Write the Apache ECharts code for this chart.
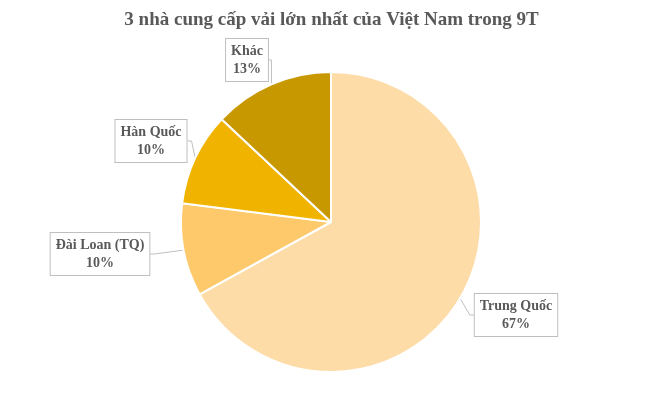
<!DOCTYPE html>
<html><head><meta charset="utf-8">
<script src="https://cdn.jsdelivr.net/npm/echarts@6/dist/echarts.min.js"></script>
<style>html,body{margin:0;padding:0;background:#fff}#c{width:663px;height:406px}</style>
</head><body><div id="c"></div>
<script>
var names = ['Trung Quốc', 'Đài Loan (TQ)', 'Hàn Quốc', 'Khác'];
var values = [67, 10, 10, 13];
var colors = ['#FDDCA8', '#FDC96B', '#F0B400', '#C89800'];
var labelPos = [[516, 315], [100, 254], [151, 141], [247, 60]];

var chart = echarts.init(document.getElementById('c'));
chart.setOption({
    title: {
        text: '3 nhà cung cấp vải lớn nhất của Việt Nam trong 9T',
        left: 'center', top: 6,
        textStyle: { fontFamily: 'Liberation Serif', fontSize: 19, fontWeight: 'bold', color: '#595959' }
    },
    series: [{
        type: 'pie',
        center: [331, 222],
        radius: 150,
        startAngle: 90,
        clockwise: true,
        animation: false,
        data: names.map(function (n, i) {
            return { name: n, value: values[i], itemStyle: { color: colors[i] } };
        }),
        itemStyle: { borderColor: '#fff', borderWidth: 2 },
        label: {
            formatter: '{b}\n{c}%',
            fontFamily: 'Liberation Serif', fontSize: 14, fontWeight: 'bold', color: '#595959',
            lineHeight: 18, align: 'center',
            backgroundColor: '#fff', borderColor: '#bfbfbf', borderWidth: 1, padding: [3, 5]
        },
        labelLine: { show: true, length: 8, length2: 4, lineStyle: { color: '#bfbfbf' } },
        labelLayout: function (p) {
            var pos = labelPos[p.dataIndex];
            return { x: pos[0], y: pos[1], align: 'center', verticalAlign: 'middle' };
        }
    }]
});
</script></body></html>
